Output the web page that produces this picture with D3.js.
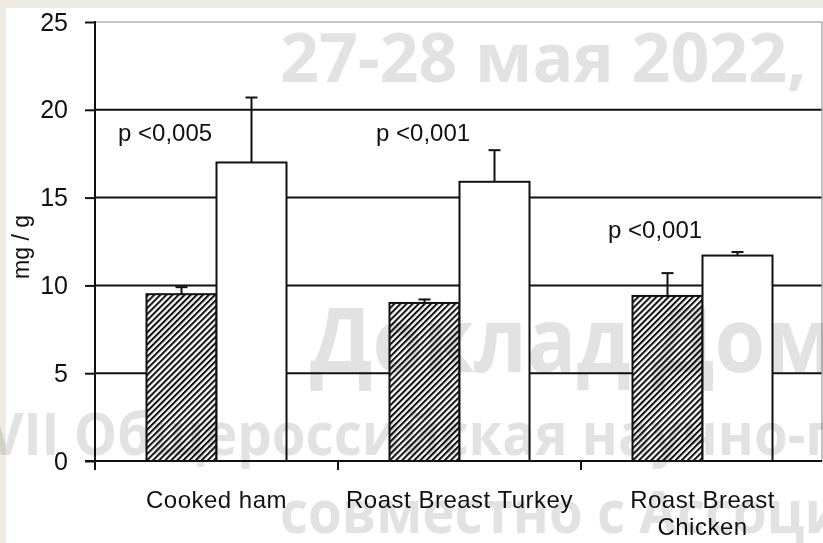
<!DOCTYPE html>
<html>
<head>
<meta charset="utf-8">
<script src="https://cdn.jsdelivr.net/npm/d3@7/dist/d3.min.js"></script>
<style>
  html, body { margin: 0; padding: 0; background: #eeebe1; }
  svg { display: block; }
  .lbl { font-family: "Liberation Sans", Arial, sans-serif; fill: #111; }
  .wm { font-family: "Open Sans", "Noto Sans", sans-serif; font-weight: 700; fill: #e2e2e2; mix-blend-mode: multiply; }
</style>
</head>
<body>
<svg id="chart" width="823" height="543"></svg>
<script>
// Product groups (x-axis)
const categories = ["Cooked ham", "Roast Breast Turkey", "Roast Breast Chicken"];
const categoryLines = [["Cooked ham"], ["Roast Breast Turkey"], ["Roast Breast", "Chicken"]];
// Two series per group: hatched (first) and plain white (second), mg / g
const seriesKeys = ["hatched", "plain"];
const hatchedValues = [9.5, 9.0, 9.4];
const hatchedErrors = [0.4, 0.2, 1.3];
const plainValues = [17.0, 15.9, 11.7];
const plainErrors = [3.7, 1.8, 0.2];
// Significance notes written above each group
const pLabels = ["p <0,005", "p <0,001", "p <0,001"];
const pLabelLevels = [18.2, 18.2, 12.7];
// Y axis ticks
const yTicks = [0, 5, 10, 15, 20, 25];
const yTitle = "mg / g";

const W = 823, H = 543;
const plot = { left: 95, right: 824, top: 22, bottom: 461, border: 822 };
const svg = d3.select("#chart");

// white panel
svg.append("rect").attr("x", 6).attr("y", 8).attr("width", W - 6).attr("height", H - 8).attr("fill", "#fff");

const x = d3.scaleBand().domain(categories).range([plot.left, plot.right]).padding(0);
const barW = 70;
const x1 = d3.scaleBand().domain(seriesKeys)
  .range([x.bandwidth() / 2 - barW, x.bandwidth() / 2 + barW]).padding(0);
const y = d3.scaleLinear().domain([0, 25]).range([plot.bottom, plot.top]);

// hatch pattern
const defs = svg.append("defs");
const pat = defs.append("pattern").attr("id", "hatch").attr("patternUnits", "userSpaceOnUse")
  .attr("width", 4.3).attr("height", 4.3).attr("patternTransform", "rotate(45)");
pat.append("rect").attr("width", 4.3).attr("height", 4.3).attr("fill", "#fff");
pat.append("line").attr("x1", 1).attr("y1", 0).attr("x2", 1).attr("y2", 4.3)
  .attr("stroke", "#111").attr("stroke-width", 2.1);

// gridlines
const grid = svg.append("g");
grid.selectAll("line.g").data(yTicks.filter(t => t > 0 && t < 25)).join("line")
  .attr("x1", plot.left).attr("x2", plot.border)
  .attr("y1", d => y(d)).attr("y2", d => y(d))
  .attr("stroke", "#111").attr("stroke-width", 2);
// top and right frame
grid.append("line").attr("x1", plot.left).attr("x2", plot.border)
  .attr("y1", y(25)).attr("y2", y(25)).attr("stroke", "#8a8a8a").attr("stroke-width", 1.2);
grid.append("line").attr("x1", plot.border).attr("x2", plot.border)
  .attr("y1", y(25)).attr("y2", y(0)).attr("stroke", "#9a9a9a").attr("stroke-width", 1.2);

// bars
const rows = categories.map((c, i) => ({
  c,
  bars: [
    { key: "hatched", v: hatchedValues[i], e: hatchedErrors[i] },
    { key: "plain", v: plainValues[i], e: plainErrors[i] }
  ]
}));
const groups = svg.append("g").selectAll("g").data(rows).join("g")
  .attr("transform", d => `translate(${x(d.c)},0)`);
groups.selectAll("rect").data(d => d.bars).join("rect")
  .attr("x", d => x1(d.key)).attr("width", x1.bandwidth())
  .attr("y", d => y(d.v)).attr("height", d => y(0) - y(d.v))
  .attr("fill", d => d.key === "hatched" ? "url(#hatch)" : "#fff")
  .attr("stroke", "#111").attr("stroke-width", 2);

// error bars (upper whisker only)
const cap = 12;
const eb = groups.selectAll("g.err").data(d => d.bars).join("g").attr("class", "err");
eb.append("line")
  .attr("x1", d => x1(d.key) + x1.bandwidth() / 2).attr("x2", d => x1(d.key) + x1.bandwidth() / 2)
  .attr("y1", d => y(d.v)).attr("y2", d => y(d.v + d.e))
  .attr("stroke", "#111").attr("stroke-width", 2);
eb.append("line")
  .attr("x1", d => x1(d.key) + x1.bandwidth() / 2 - cap / 2).attr("x2", d => x1(d.key) + x1.bandwidth() / 2 + cap / 2)
  .attr("y1", d => y(d.v + d.e)).attr("y2", d => y(d.v + d.e))
  .attr("stroke", "#111").attr("stroke-width", 2);

// y axis
const yAxis = svg.append("g").attr("transform", `translate(${plot.left},0)`)
  .call(d3.axisLeft(y).tickValues(yTicks).tickSize(10).tickPadding(17).tickFormat(d3.format("d")));
yAxis.select(".domain").remove();
yAxis.selectAll(".tick line").attr("stroke", "#111").attr("stroke-width", 2);
yAxis.selectAll(".tick text").attr("class", "lbl").attr("font-size", 25).attr("fill", "#111");
yAxis.attr("font-family", null);
svg.append("line").attr("x1", plot.left).attr("x2", plot.left)
  .attr("y1", y(25) - 1).attr("y2", y(0) + 9).attr("stroke", "#111").attr("stroke-width", 2);

// x axis baseline and group separators
svg.append("line").attr("x1", plot.left - 10).attr("x2", plot.border)
  .attr("y1", y(0)).attr("y2", y(0)).attr("stroke", "#111").attr("stroke-width", 2);
svg.append("g").selectAll("line").data(categories.slice(1)).join("line")
  .attr("x1", d => x(d)).attr("x2", d => x(d))
  .attr("y1", y(0)).attr("y2", y(0) + 9).attr("stroke", "#111").attr("stroke-width", 2);

// category labels
svg.append("g").selectAll("text").data(categories).join("text")
  .attr("class", "lbl").attr("font-size", 24).attr("letter-spacing", 0.5)
  .attr("text-anchor", "middle")
  .attr("x", d => x(d) + x.bandwidth() / 2).attr("y", 508)
  .each(function (d, i) {
    const t = d3.select(this);
    categoryLines[i].forEach((ln, k) => {
      t.append("tspan").attr("x", x(d) + x.bandwidth() / 2).attr("dy", k === 0 ? 0 : 27).text(ln);
    });
  });

// p-value notes
const pDx = [23, 38, 27];
svg.append("g").selectAll("text").data(pLabels).join("text")
  .attr("class", "lbl").attr("font-size", 24)
  .attr("x", (d, i) => x(categories[i]) + pDx[i]).attr("y", (d, i) => y(pLabelLevels[i]))
  .text(d => d);

// y title
svg.append("text").attr("class", "lbl").attr("font-size", 23)
  .attr("transform", "translate(29,247) rotate(-90)").attr("text-anchor", "middle")
  .text(yTitle);

// conference watermark
const wm = svg.append("g");
wm.append("text").attr("class", "wm").attr("font-size", 68).attr("x", 280).attr("y", 82).text("27-28 мая 2022,");
const wmRows = [
  { t: "Доклад Домостроя", size: 90, x: 310, y: 372 },
  { t: "VII Общероссийская научно-практическая конференция", size: 60, x: -12, y: 455 },
  { t: "совместно с Ассоциацией", size: 60, x: 280, y: 533 }
];
wm.selectAll("text.row").data(wmRows).join("text").attr("class", "wm row")
  .attr("font-size", d => d.size)
  .attr("transform", d => `translate(${d.x},${d.y}) scale(0.91,1)`)
  .text(d => d.t);
</script>
</body>
</html>
